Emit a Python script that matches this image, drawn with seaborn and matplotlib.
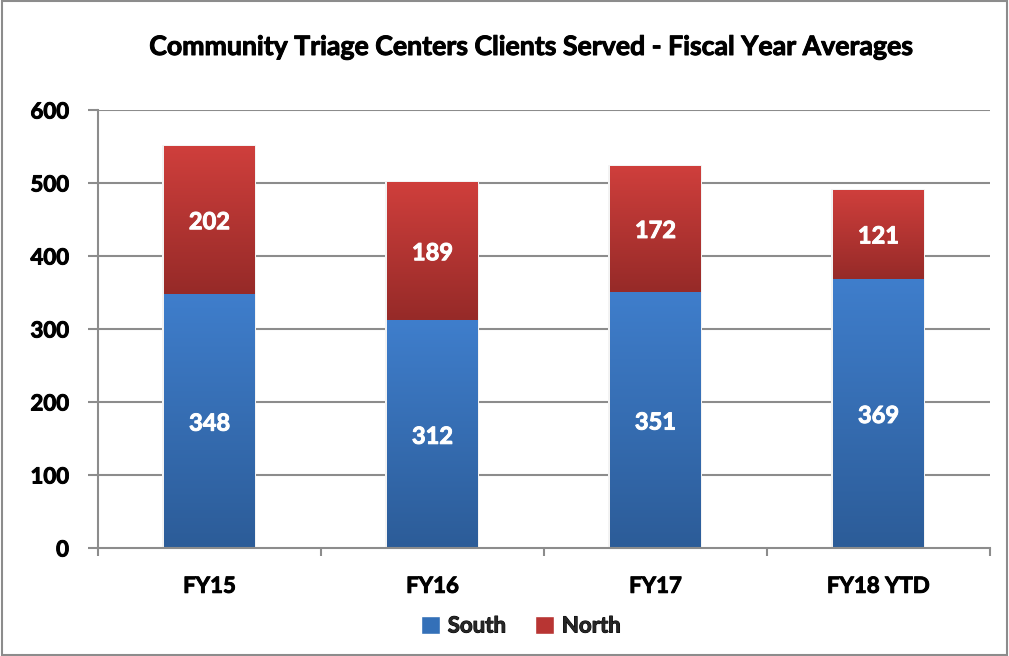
import numpy as np
import pandas as pd
import matplotlib
matplotlib.use("Agg")
import matplotlib.pyplot as plt
import matplotlib.patheffects as pe
import seaborn as sns
from matplotlib.colors import LinearSegmentedColormap
from matplotlib.patches import Rectangle, Patch

categories = ["FY15", "FY16", "FY17", "FY18 YTD"]
south = [348, 312, 351, 369]
north = [202, 189, 172, 121]
yticks = [0, 100, 200, 300, 400, 500, 600]
title = "Community Triage Centers Clients Served - Fiscal Year Averages"

sns.set_theme(style="white")
plt.rcParams["font.family"] = ["Lato", "DejaVu Sans"]
plt.rcParams["font.weight"] = "bold"

def heavy(color):
    return [pe.withStroke(linewidth=0.7, foreground=color)]

df = pd.DataFrame({"cat": categories, "south": south, "north": north})
df["total"] = df["south"] + df["north"]

fig = plt.figure(figsize=(10.09, 6.56), dpi=100)
ax = fig.add_axes([98 / 1009, 1 - 548 / 656, (990 - 98) / 1009, (548 - 110) / 656])

grid_c = "#8C8C8C"
for y in yticks[1:]:
    ax.axhline(y, color=grid_c, lw=1.5, zorder=0)

bw = 0.405
sns.barplot(data=df, x="cat", y="total", color="#C83A38", width=bw, ax=ax,
            saturation=1, zorder=2, edgecolor="none")
sns.barplot(data=df, x="cat", y="south", color="#3A78C6", width=bw, ax=ax,
            saturation=1, zorder=3, edgecolor="none")

# gradient overlays
cm_s = LinearSegmentedColormap.from_list("s", ["#2C5C98", "#3F7ECC"])
cm_n = LinearSegmentedColormap.from_list("n", ["#962A28", "#CF3F3C"])
grad = np.linspace(0, 1, 256).reshape(-1, 1)
for i, (s, n) in enumerate(zip(south, north)):
    x0, x1 = i - bw / 2, i + bw / 2
    ax.add_patch(Rectangle((x0 - 0.012, 0), bw + 0.02, s + n + 2, color="#F3F3F3", zorder=1, lw=0))
    ax.imshow(grad, extent=(x0, x1, 0, s), origin="lower", cmap=cm_s,
              aspect="auto", zorder=4)
    ax.imshow(grad, extent=(x0, x1, s, s + n), origin="lower", cmap=cm_n,
              aspect="auto", zorder=4)
    ax.text(i, s / 2 - 3, str(s), ha="center", va="center", color="white",
            fontsize=17, fontweight="bold", zorder=6, path_effects=heavy("white"))
    ax.text(i, s + n / 2 - 2, str(n), ha="center", va="center", color="white",
            fontsize=17, fontweight="bold", zorder=6, path_effects=heavy("white"))
ax.set_xlim(-0.5, 3.5)
ax.set_ylim(0, 600)
ax.set_yticks(yticks)

ax.set_xlabel("")
ax.set_ylabel("")
ax.set_xticks(range(len(categories)))
ax.set_xticklabels(categories, fontsize=16, fontweight="bold")
ax.set_xticks([-0.5, 0.5, 1.5, 2.5, 3.5], minor=True)
ax.tick_params(axis="x", which="major", length=0, pad=20)
ax.tick_params(axis="x", which="minor", length=6, color=grid_c, width=1.5, direction="out", bottom=True)
ax.tick_params(axis="y", length=7, color=grid_c, width=1.5, direction="out", left=True, pad=14,
               labelsize=16)
for lab in ax.get_yticklabels() + ax.get_xticklabels():
    lab.set_fontweight("bold")
    lab.set_color("black")
    lab.set_path_effects(heavy("black"))
for sp in ["top", "right"]:
    ax.spines[sp].set_visible(False)
for sp in ["left", "bottom"]:
    ax.spines[sp].set_color(grid_c)
    ax.spines[sp].set_linewidth(1.5)
    ax.spines[sp].set_zorder(7)

fig.text(531 / 1009, 1 - 47 / 656, title, ha="center", va="center",
         fontsize=19.2, fontweight="bold", color="black", path_effects=heavy("black"))

handles = [Patch(facecolor="#3470B8", label="South"), Patch(facecolor="#B83533", label="North")]
leg = fig.legend(handles=handles, loc="center", bbox_to_anchor=(521 / 1009, 1 - 626 / 656), ncol=2,
                 frameon=False, handlelength=0.85, handleheight=0.85, columnspacing=1.3,
                 handletextpad=0.35, prop={"family": ["Lato"], "weight": "bold", "size": 16})
for t in leg.get_texts():
    t.set_path_effects(heavy("black"))

fig.add_artist(Rectangle((0.002, 0.002), 0.996, 0.996, transform=fig.transFigure,
                         fill=False, edgecolor="#8C8C8C", lw=1.5))

fig.savefig("out.png", dpi=100)
